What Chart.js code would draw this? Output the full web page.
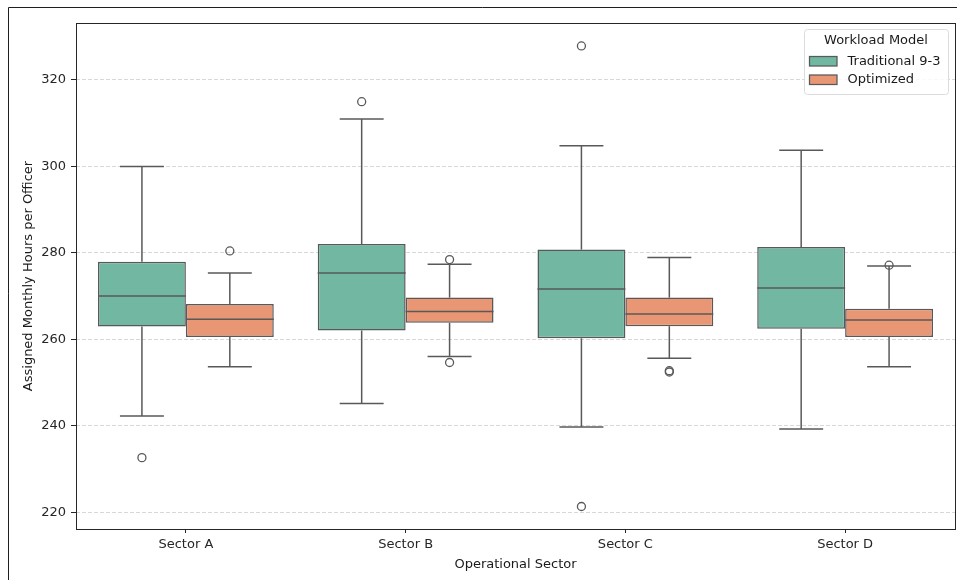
<!DOCTYPE html>
<html>
<head>
<meta charset="utf-8">
<script src="https://cdn.jsdelivr.net/npm/chart.js@4/dist/chart.umd.min.js"></script>
<style>
  html, body { margin: 0; padding: 0; background: #ffffff; }
  #wrap { position: relative; width: 957px; height: 580px; }
</style>
</head>
<body>
<div id="wrap"><canvas id="chart" width="957" height="580"></canvas></div>
<script>
// Sectors on the x axis and the two workload models compared in each
const sectors = ['Sector A', 'Sector B', 'Sector C', 'Sector D'];
const models = ['Traditional 9-3', 'Optimized'];

// Traditional 9-3: whisker ends, quartiles and medians (hours per officer)
const traditionalLow    = [242.2, 245.1, 239.7, 239.2];
const traditionalQ1     = [262.9, 262.0, 260.2, 262.4];
const traditionalMedian = [270.0, 275.3, 271.6, 271.8];
const traditionalQ3     = [277.9, 282.0, 280.7, 281.3];
const traditionalHigh   = [299.9, 310.9, 304.7, 303.7];
const traditionalOutliers = [[232.6], [314.9], [327.8, 221.3], []];

// Optimized: whisker ends, quartiles and medians (hours per officer)
const optimizedLow    = [253.6, 256.0, 255.6, 253.6];
const optimizedQ1     = [260.5, 263.8, 263.0, 260.5];
const optimizedMedian = [264.6, 266.4, 265.8, 264.4];
const optimizedQ3     = [268.1, 269.6, 269.6, 267.0];
const optimizedHigh   = [275.3, 277.3, 278.9, 276.9];
const optimizedOutliers = [[280.4], [278.4, 254.6], [252.7, 252.4], [277.1]];

// Y axis range and tick labels
const yMin = 216.1;
const yMax = 333.1;
const yTicks = [220, 240, 260, 280, 300, 320];

const FONT = "'DejaVu Sans', 'Liberation Sans', sans-serif";
const LINE = '#595959';
const FILLS = ['rgb(114,183,161)', 'rgb(233,150,117)'];

const summaries = [
  { low: traditionalLow, q1: traditionalQ1, med: traditionalMedian, q3: traditionalQ3, high: traditionalHigh, out: traditionalOutliers },
  { low: optimizedLow, q1: optimizedQ1, med: optimizedMedian, q3: optimizedQ3, high: optimizedHigh, out: optimizedOutliers }
];

// Boxes are floating bars spanning the interquartile range
const datasets = summaries.map((s, k) => ({
  label: models[k],
  data: s.q1.map((v, i) => [v, s.q3[i]]),
  backgroundColor: FILLS[k],
  borderColor: LINE,
  borderWidth: 1.5,
  borderSkipped: false,
  categoryPercentage: 0.8,
  barPercentage: 1.0
}));

function seg(ctx, x1, y1, x2, y2) {
  ctx.beginPath();
  ctx.moveTo(x1, y1);
  ctx.lineTo(x2, y2);
  ctx.stroke();
}

// Whiskers, caps, medians, fliers, frame and legend
const boxDecor = {
  id: 'boxDecor',
  beforeDraw(chart) {
    const ctx = chart.ctx;
    ctx.save();
    ctx.strokeStyle = '#1f1f1f';
    ctx.lineWidth = 1;
    ctx.beginPath();
    ctx.moveTo(8.5, 580);
    ctx.lineTo(8.5, 7.5);
    ctx.lineTo(957, 7.5);
    ctx.stroke();
    ctx.restore();
  },
  afterDatasetsDraw(chart) {
    const ctx = chart.ctx;
    const y = chart.scales.y;
    ctx.save();
    ctx.strokeStyle = LINE;
    ctx.lineWidth = 1.5;
    summaries.forEach((s, k) => {
      const meta = chart.getDatasetMeta(k);
      meta.data.forEach((bar, i) => {
        const x = bar.x;
        const w = bar.width;
        const pLow = y.getPixelForValue(s.low[i]);
        const pQ1 = y.getPixelForValue(s.q1[i]);
        const pMed = y.getPixelForValue(s.med[i]);
        const pQ3 = y.getPixelForValue(s.q3[i]);
        const pHigh = y.getPixelForValue(s.high[i]);
        seg(ctx, x, pQ3, x, pHigh);
        seg(ctx, x, pQ1, x, pLow);
        seg(ctx, x - w / 4, pHigh, x + w / 4, pHigh);
        seg(ctx, x - w / 4, pLow, x + w / 4, pLow);
        seg(ctx, x - w / 2, pMed, x + w / 2, pMed);
        ctx.lineWidth = 1.3;
        s.out[i].forEach(v => {
          ctx.beginPath();
          ctx.arc(x, y.getPixelForValue(v), 4, 0, Math.PI * 2);
          ctx.stroke();
        });
        ctx.lineWidth = 1.5;
      });
    });
    ctx.restore();
  },
  afterDraw(chart) {
    const ctx = chart.ctx;
    const a = chart.chartArea;
    ctx.save();
    // axes frame
    ctx.strokeStyle = '#262626';
    ctx.lineWidth = 1;
    ctx.strokeRect(Math.round(a.left) + 0.5, Math.round(a.top) + 0.5,
                   Math.round(a.right - a.left), Math.round(a.bottom - a.top));

    // legend box
    const lx = 804.5, ly = 29.5, lw = 144, lh = 65, r = 3;
    ctx.beginPath();
    ctx.moveTo(lx + r, ly);
    ctx.arcTo(lx + lw, ly, lx + lw, ly + lh, r);
    ctx.arcTo(lx + lw, ly + lh, lx, ly + lh, r);
    ctx.arcTo(lx, ly + lh, lx, ly, r);
    ctx.arcTo(lx, ly, lx + lw, ly, r);
    ctx.closePath();
    ctx.fillStyle = 'rgba(255,255,255,0.85)';
    ctx.fill();
    ctx.strokeStyle = '#dcdcdc';
    ctx.lineWidth = 1;
    ctx.stroke();

    ctx.fillStyle = '#1a1a1a';
    ctx.font = '13px ' + FONT;
    ctx.textBaseline = 'middle';
    ctx.textAlign = 'center';
    ctx.fillText('Workload Model', 876, 41);
    ctx.textAlign = 'left';
    models.forEach((m, k) => {
      const ry = 56.5 + k * 18.5;
      ctx.fillStyle = FILLS[k];
      ctx.fillRect(809.5, ry, 27.5, 9.5);
      ctx.strokeStyle = LINE;
      ctx.lineWidth = 1.25;
      ctx.strokeRect(809.5, ry, 27.5, 9.5);
      ctx.fillStyle = '#1a1a1a';
      ctx.fillText(m, 847.5, ry + 5);
    });
    ctx.restore();
  }
};

new Chart(document.getElementById('chart'), {
  type: 'bar',
  data: { labels: sectors, datasets: datasets },
  options: {
    responsive: false,
    animation: false,
    layout: { padding: { top: 23, right: 2, left: 0, bottom: 0 } },
    plugins: {
      legend: { display: false },
      tooltip: { enabled: false }
    },
    scales: {
      x: {
        grid: {
          offset: false,
          drawOnChartArea: false,
          drawTicks: true,
          tickLength: 4,
          tickColor: '#262626',
          tickWidth: 1
        },
        border: { display: false },
        ticks: {
          color: '#262626',
          font: { family: FONT, size: 13 },
          padding: 4
        },
        title: {
          display: true,
          text: 'Operational Sector',
          color: '#1a1a1a',
          font: { family: FONT, size: 13 },
          padding: { top: 0, bottom: 8 }
        },
        afterFit(scale) { scale.height = 51; }
      },
      y: {
        min: yMin,
        max: yMax,
        afterBuildTicks(scale) {
          scale.ticks = yTicks.map(v => ({ value: v }));
        },
        grid: {
          color: 'rgba(190,190,190,0.75)',
          lineWidth: 0.8,
          drawTicks: true,
          tickLength: 5,
          tickColor: '#262626',
          tickWidth: 1,
          tickBorderDash: []
        },
        border: { display: false, dash: [4, 2] },
        ticks: {
          color: '#262626',
          font: { family: FONT, size: 13 },
          padding: 5
        },
        title: {
          display: true,
          text: 'Assigned Monthly Hours per Officer',
          color: '#1a1a1a',
          font: { family: FONT, size: 13 },
          padding: { top: 21, bottom: 0 }
        },
        afterFit(scale) { scale.width = 76; }
      }
    }
  },
  plugins: [boxDecor]
});
</script>
</body>
</html>
